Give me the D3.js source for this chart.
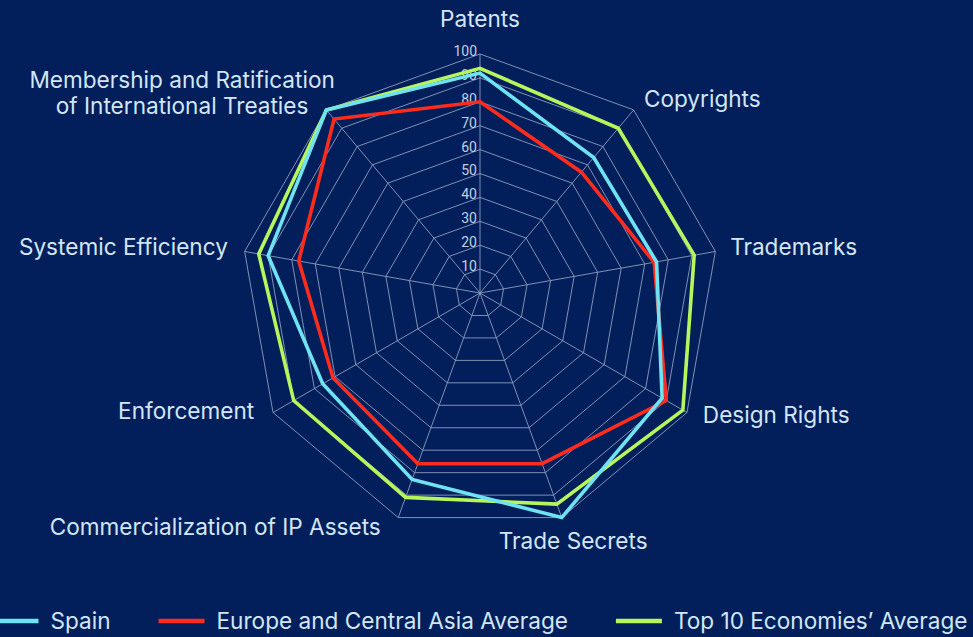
<!DOCTYPE html>
<html>
<head>
<meta charset="utf-8">
<script src="https://cdn.jsdelivr.net/npm/d3@7"></script>
<style>
  html, body { margin: 0; padding: 0; background: #021f5b; }
  svg { display: block; }
</style>
</head>
<body>
<svg id="chart" width="973" height="637"></svg>
<script>
// ---- data ----
const categories = [
  "Patents", "Copyrights", "Trademarks", "Design Rights", "Trade Secrets",
  "Commercialization of IP Assets", "Enforcement", "Systemic Efficiency",
  "Membership and Ratification|of International Treaties"
];
const seriesNames = ["Spain", "Europe and Central Asia Average", "Top 10 Economies\u2019 Average"];
const spain  = [92, 74, 75, 88, 100, 83, 76, 90, 100];
const europe = [80, 66, 74, 90, 76, 76, 71, 77, 95];
const top10  = [94, 90, 91, 98, 94, 91, 90, 94, 100];
const tickValues = [10, 20, 30, 40, 50, 60, 70, 80, 90, 100];
const seriesColors = ["#6fe3f2", "#ff2b1c", "#b6f55b"];

// ---- layout ----
const W = 973, H = 637;
const cx = 480, cy = 293, R = 239;
const bg = "#021f5b", gridColor = "#8d9dbd", textColor = "#d3e6f6";
const font = "Inter, 'Open Sans', sans-serif";
const fontSize = 22.6;

const svg = d3.select("#chart");
svg.append("rect").attr("width", W).attr("height", H).attr("fill", bg);

const g = svg.append("g").attr("transform", `translate(${cx},${cy})`);
const n = categories.length;
const angle = d3.scaleLinear().domain([0, n]).range([0, 2 * Math.PI]);
const r = d3.scaleLinear().domain([0, 100]).range([0, R]);
const pt = (i, v) => [Math.sin(angle(i)) * r(v), -Math.cos(angle(i)) * r(v)];

// grid rings
const ringLine = d3.line();
g.selectAll(".ring").data(tickValues).join("path")
  .attr("d", v => ringLine(d3.range(n).map(i => pt(i, v))) + "Z")
  .attr("fill", "none").attr("stroke", gridColor).attr("stroke-width", 0.9);
// spokes
g.selectAll(".spoke").data(d3.range(n)).join("line")
  .attr("x1", 0).attr("y1", 0)
  .attr("x2", i => pt(i, 100)[0]).attr("y2", i => pt(i, 100)[1])
  .attr("stroke", gridColor).attr("stroke-width", 0.9);

// tick labels
g.selectAll(".tick").data(tickValues).join("text")
  .attr("x", -3).attr("y", v => -r(v) - 3).attr("dy", "0.35em")
  .attr("text-anchor", "end")
  .attr("font-family", "Roboto, sans-serif").attr("font-size", 14)
  .attr("fill", "#c3cfe4").text(v => v);

// series
const seriesData = [top10, europe, spain];
const seriesCol = [seriesColors[2], seriesColors[1], seriesColors[0]];
const radarLine = d3.lineRadial()
  .angle((d, i) => angle(i)).radius(d => r(d)).curve(d3.curveLinearClosed);
g.selectAll(".series").data(seriesData).join("path")
  .attr("d", d => radarLine(d))
  .attr("fill", "none")
  .attr("stroke", (d, i) => seriesCol[i])
  .attr("stroke-width", 3.6)
  .attr("stroke-linejoin", "miter");

// axis labels
const labelR = 255;
const labelAdj = [
  ["middle", 0, -19], ["start", 0, 1], ["start", -1, -2], ["start", 2, -5],
  ["middle", 6, 8], ["end", -12, -6], ["end", -5, -9], ["end", -1, -2],
  ["middle", -134, -5]
];
categories.forEach((c, i) => {
  const [x, y] = pt(i, r.invert(labelR));
  const [anchor, dx, dy] = labelAdj[i];
  const lines = c.split("|");
  const t = g.append("text")
    .attr("text-anchor", anchor)
    .attr("font-family", font).attr("font-size", fontSize)
    .attr("fill", textColor);
  const lh = 26;
  lines.forEach((ln, k) => {
    t.append("tspan")
      .attr("x", x + dx)
      .attr("y", y + dy + (k - (lines.length - 1) / 2) * lh)
      .attr("dy", "0.35em")
      .text(ln);
  });
});

// legend
const legend = svg.append("g");
const legY = 621, lineW = 46, gapLT = 12, gapItem = 48;
let xPos = 0;
const items = [];
seriesNames.forEach((name, i) => {
  const it = legend.append("g");
  it.append("line").attr("x1", 0).attr("x2", lineW).attr("y1", 0).attr("y2", 0)
    .attr("stroke", seriesColors[i]).attr("stroke-width", 4.5);
  const t = it.append("text").attr("x", lineW + gapLT).attr("y", 0).attr("dy", "0.35em")
    .attr("font-family", font).attr("font-size", fontSize).attr("fill", textColor).text(name);
  const w = lineW + gapLT + t.node().getComputedTextLength();
  items.push({ it, x: xPos });
  xPos += w + gapItem;
});
const total = xPos - gapItem;
const startX = cx - total / 2;
items.forEach(o => o.it.attr("transform", `translate(${startX + o.x},${legY})`));
</script>
</body>
</html>
